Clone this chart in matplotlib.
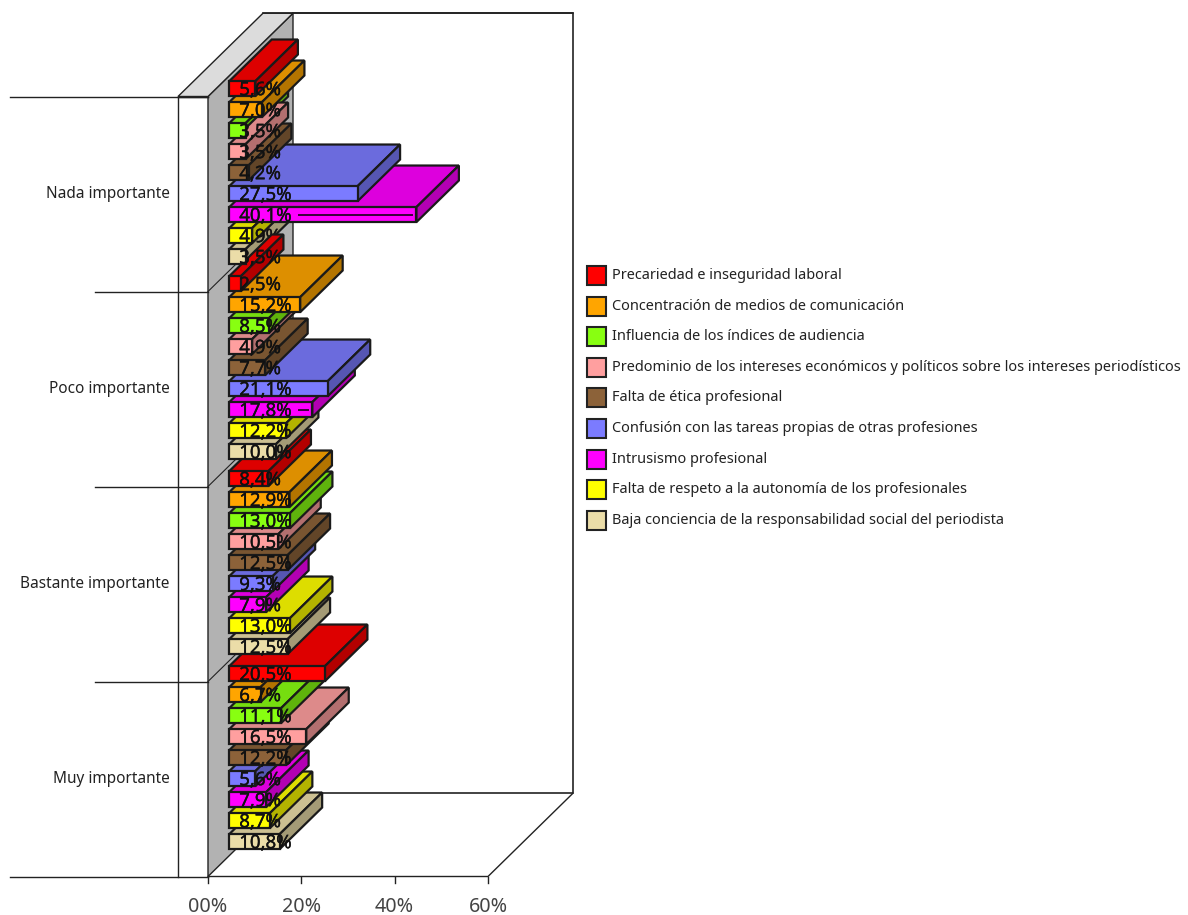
import matplotlib
matplotlib.use('Agg')
import matplotlib.pyplot as plt
import matplotlib.patheffects as pe

categorias = ['Nada importante', 'Poco importante', 'Bastante importante', 'Muy importante']
series = ['Precariedad e inseguridad laboral',
          'Concentración de medios de comunicación',
          'Influencia de los índices de audiencia',
          'Predominio de los intereses económicos y políticos sobre los intereses periodísticos',
          'Falta de ética profesional',
          'Confusión con las tareas propias de otras profesiones',
          'Intrusismo profesional',
          'Falta de respeto a la autonomía de los profesionales',
          'Baja conciencia de la responsabilidad social del periodista']
precariedad = [5.6, 2.5, 8.4, 20.5]
concentracion = [7.0, 15.2, 12.9, 6.7]
influencia = [3.5, 8.5, 13.0, 11.1]
predominio = [3.5, 4.9, 10.5, 16.5]
etica = [4.2, 7.7, 12.5, 12.2]
confusion = [27.5, 21.1, 9.3, 5.6]
intrusismo = [40.1, 17.8, 7.9, 7.9]
respeto = [4.9, 12.2, 13.0, 8.7]
conciencia = [3.5, 10.0, 12.5, 10.8]
valores = [precariedad, concentracion, influencia, predominio, etica,
           confusion, intrusismo, respeto, conciencia]
colores = ['#ff0000', '#ffa500', '#88ff11', '#ff9f9f', '#8c6239',
           '#7b7bff', '#ff00ff', '#ffff00', '#ebdda8']
ticks = [0, 20, 40, 60]

plt.rcParams['font.family'] = ['Noto Sans', 'DejaVu Sans']
W, H = 1188, 915
fig = plt.figure(figsize=(W / 100, H / 100), dpi=100)
ax = fig.add_axes([0, 0, 1, 1])
ax.axis('off')

# x en %, y en grupos; 280 px = 60 %, 195 px = 1 grupo
px_x = 280 / 60
px_y = 195
y_ini = 96.5
ax.set_xlim(-208 / px_x, (W - 208) / px_x)
ax.set_ylim((H - y_ini) / px_y, -y_ini / px_y)
DX = 85 / px_x   # profundidad total
DY = 83.3 / px_y
n_g = len(categorias)
xmax = ticks[-1]
izq = -30 / px_x
ly = 1 / px_y
negro = '#1a1a1a'


def p(x, y, d):
    return x + d * DX, y - d * DY


def cara(pts, color, z):
    xs, ys = zip(*pts)
    ax.fill(xs, ys, facecolor=color, edgecolor=negro, lw=1.6, zorder=z, joinstyle='miter')


def sombra(c, f):
    r, g, b = matplotlib.colors.to_rgb(c)
    return (r * f, g * f, b * f)


# paredes
ax.fill(*zip(p(0, 0, 0), p(0, 0, 1), p(0, n_g, 1), p(0, n_g, 0)), facecolor='#b2b2b2', edgecolor='#222222', lw=1, zorder=1)
ax.fill(*zip(p(izq, 0, 0), p(izq, 0, 1), p(0, 0, 1), p(0, 0, 0)), facecolor='#dcdcdc', edgecolor='#222222', lw=1, zorder=1)
ax.plot(*zip(p(0, 0, 1), p(xmax, 0, 1), p(xmax, n_g, 1), p(0, n_g, 1)), color='#222222', lw=1.2, zorder=1)
ax.plot(*zip(p(izq, 0, 1), p(xmax, 0, 1)), color='#222222', lw=1.2, zorder=1)
ax.plot(*zip(p(0, n_g, 0), p(xmax, n_g, 0), p(xmax, n_g, 1)), color='#222222', lw=1, zorder=1)
ax.plot([izq, izq], [0, n_g], color='#222222', lw=1, zorder=1)
ax.plot([izq, 0], [0, 0], color='#222222', lw=1, zorder=1)
for g in range(1, n_g):
    ax.plot(*zip(p(0, g, 0), p(0, g, 1)), color='#222222', lw=0.8, zorder=1.5)
    ax.plot([-113 / px_x, 0], [g, g], color='#222222', lw=1, zorder=1)
for g in [0, n_g]:
    ax.plot([-198 / px_x, 0], [g, g], color='#222222', lw=1, zorder=1)

for t in ticks:
    ax.plot([t, t], [n_g, n_g + 6 * ly], color='#222222', lw=1)
    ax.text(t, n_g + 30 * ly, '%02d%%' % t, ha='center', va='center', fontsize=14.2, color='#444444')

for g, c in enumerate(categorias):
    ax.text(-38.5 / px_x, g + 0.5, c, ha='right', va='center', fontsize=11.05, color='#222222')

# barras: primero las de abajo, con unas pocas excepciones de orden como en el original
alto = 15 * ly
paso = 21 * ly
orden = []
for g in range(n_g - 1, -1, -1):
    filas = list(range(len(series) - 1, -1, -1))
    if g == 0:
        filas.remove(2)
        filas.insert(filas.index(3), 2)
    for s in filas:
        if (g, s) != (1, 0):
            orden.append((g, s))
orden.append((1, 0))
# frente y etiqueta que quedan por encima de la barra siguiente
sube = {(0, 2): 1.5, (0, 8): 500}

z = 2
for g, s in orden:
    v = valores[s][g]
    y0 = g + 5.5 * ly + s * paso
    y1 = y0 + alto
    col = colores[s]
    d0, d1 = 0.25, 0.75
    zf = z + sube.get((g, s), 0)
    cara([p(0, y0, d0), p(0, y0, d1), p(v, y0, d1), p(v, y0, d0)], sombra(col, 0.867), z)
    cara([p(v, y0, d0), p(v, y0, d1), p(v, y1, d1), p(v, y1, d0)], sombra(col, 0.7), z)
    cara([p(0, y0, d0), p(v, y0, d0), p(v, y1, d0), p(0, y1, d0)], col, zf)
    xl, yl = p(10 / px_x, y0 + alto / 2 + 1.5 * ly, d0)
    ax.text(xl, yl, ('%.1f%%' % v).replace('.', ','), ha='left', va='center',
            fontsize=13.4, color='#111111', zorder=zf + 0.2,
            path_effects=[pe.withStroke(linewidth=0.25, foreground='#111111')])
    if s == 6 and v > 15:
        # raya que aparece detras de la etiqueta en las barras largas de intrusismo
        xa = p(70 / px_x, y0, d0)[0]
        xb = p(v - 4 / px_x, y0, d0)[0]
        ya = p(0, y0 + alto / 2, d0)[1]
        ax.plot([xa, xb], [ya, ya], color='#3a003a', lw=1.4, zorder=z + 0.1)
    z += 1

# leyenda
for i, (nom, col) in enumerate(zip(series, colores)):
    yl = (275.5 + i * 30.6 - y_ini) / px_y
    xl = (587 - 208) / px_x
    ax.add_patch(plt.Rectangle((xl, yl - 9.5 * ly), 19 / px_x, 19 * ly, facecolor=col, edgecolor='#222222', lw=1.5))
    ax.text((612 - 208) / px_x, yl, nom, ha='left', va='center', fontsize=10.48, color='#222222')

fig.savefig('out.png', dpi=100)
